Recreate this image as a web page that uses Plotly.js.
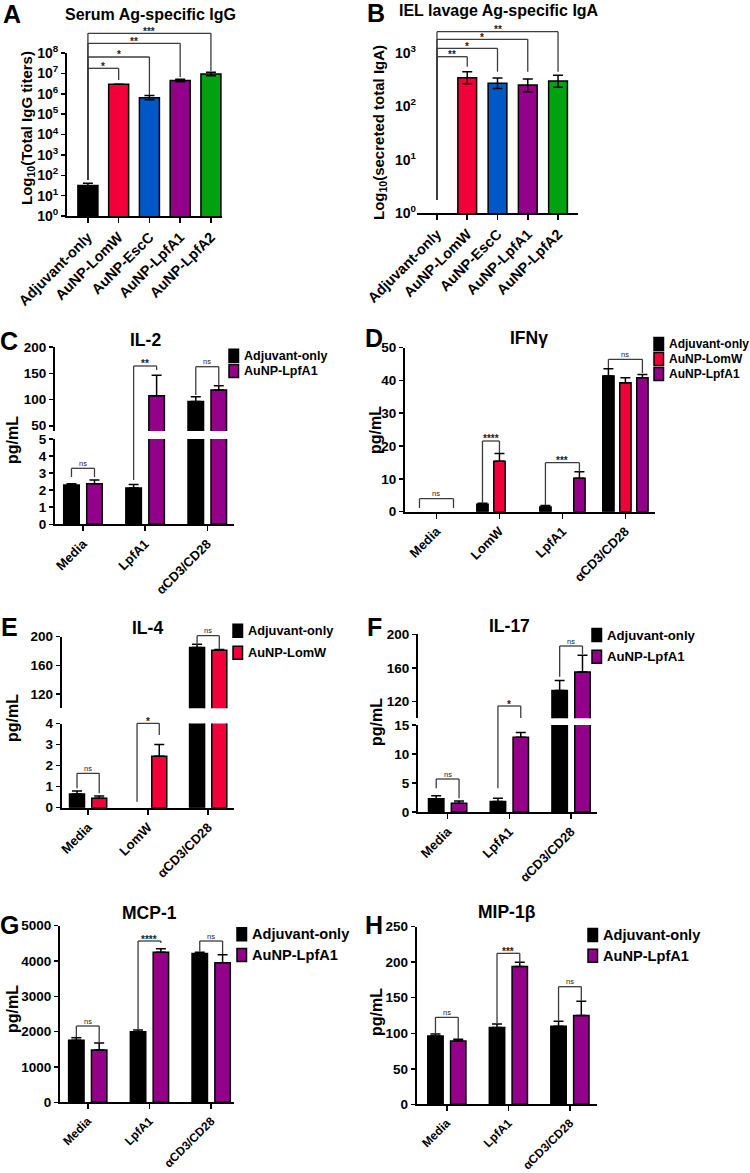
<!DOCTYPE html>
<html><head><meta charset="utf-8">
<script src="https://cdn.plot.ly/plotly-3.0.1.min.js"></script>
<style>html,body{margin:0;padding:0;background:#fff}#chart{width:750px;height:1173px}</style>
</head><body><div id="chart"></div>
<script>
// ================= DATA =================
const vaccineGroups = ['Adjuvant-only', 'AuNP-LomW', 'AuNP-EscC', 'AuNP-LpfA1', 'AuNP-LpfA2'];
const groupColors = ['#000000', '#f2003a', '#0058c6', '#930089', '#00a210'];
// A: serum Ag-specific IgG titers
const serumIgG = [31, 2.9e6, 6.4e5, 4.5e6, 9.3e6];
const serumIgGErrUp = [9, 0, 1.7e5, 7e5, 2.0e6];
const serumIgGErrDown = [6, 0, 1.3e5, 6e5, 1.6e6];
// B: IEL lavage Ag-specific IgA
const ielIgA = [null, 345, 272, 252, 298];
const ielIgAErrUp = [0, 100, 68, 72, 85];
const ielIgAErrDown = [0, 80, 55, 65, 70];
const logTickVals = [1, 10, 100, 1e3, 1e4, 1e5, 1e6, 1e7, 1e8];
const logTickText = ['10<sup>0</sup>', '10<sup>1</sup>', '10<sup>2</sup>', '10<sup>3</sup>', '10<sup>4</sup>',
  '10<sup>5</sup>', '10<sup>6</sup>', '10<sup>7</sup>', '10<sup>8</sup>'];
const sigA = ['*', '*', '**', '***'];
const sigB = ['**', '*', '*', '**'];

const seriesNames = ['Adjuvant-only', 'AuNP-LomW', 'AuNP-LpfA1'];
const stimLpfA1 = ['Media', 'LpfA1', 'αCD3/CD28'];
const stimLomW = ['Media', 'LomW', 'αCD3/CD28'];
const stimIFN = ['Media', 'LomW', 'LpfA1', 'αCD3/CD28'];

// C: IL-2
const il2Adj = [2.3, 2.13, 96];
const il2AdjErr = [0.08, 0.2, 9];
const il2Lpf = [2.38, 107, 118];
const il2LpfErr = [0.22, 39, 8];
const sigC = ['ns', '**', 'ns'];
// D: IFN-gamma (no detectable bar in Media)
const ifnAdj = [null, 2.3, 1.4, 41.3];
const ifnAdjErr = [0, 0.3, 0.45, 2.2];
const ifnLomW = [null, 15.4, null, 39.3];
const ifnLomWErr = [0, 2.3, 0, 1.5];
const ifnLpf = [null, null, 10.2, 40.8];
const ifnLpfErr = [0, 0, 2.0, 1.0];
const sigD = ['ns', '****', '***', 'ns'];
// E: IL-4
const il4Adj = [0.65, null, 185];
const il4AdjErr = [0.14, 0, 4.5];
const il4LomW = [0.45, 2.45, 181];
const il4LomWErr = [0.1, 0.55, 1.2];
const sigE = ['ns', '*', 'ns'];
// F: IL-17
const il17Adj = [2.3, 1.8, 133];
const il17AdjErr = [0.5, 0.55, 12];
const il17Lpf = [1.5, 12.9, 155];
const il17LpfErr = [0.4, 0.8, 20];
const sigF = ['ns', '*', 'ns'];
// G: MCP-1
const mcpAdj = [1760, 2000, 4210];
const mcpAdjErr = [70, 50, 40];
const mcpLpf = [1480, 4250, 3950];
const mcpLpfErr = [200, 100, 230];
const sigG = ['ns', '****', 'ns'];
// H: MIP-1beta
const mipAdj = [96, 108, 110];
const mipAdjErr = [3, 5, 7];
const mipLpf = [89, 194, 125];
const mipLpfErr = [2.5, 6, 20];
const sigH = ['ns', '***', 'ns'];

// ================= HELPERS =================
const W = 750, H = 1173;
const FX = p => p / W;
const FY = p => 1 - p / H;
const FONT = 'Liberation Sans, Arial, Helvetica, sans-serif';
const BLACK = '#000';
const BR = '#3c3c3c';

function zeros(a) { return a.map(() => 0); }

function barTrace(name, x, y, errUp, errDown, color, xa, ya, width, offset) {
  const t = {
    type: 'bar', name: name, x: x, y: y, xaxis: xa, yaxis: ya,
    width: width, showlegend: false, cliponaxis: true,
    marker: { color: color, line: { color: BLACK, width: 1.5 } },
    error_y: { type: 'data', array: errUp, arrayminus: errDown || zeros(errUp), symmetric: false,
      color: BLACK, thickness: 1.5, width: 5 }
  };
  if (offset !== undefined) t.offset = offset;
  return t;
}

function xAxis(l, r, anchor, range, fs) {
  return {
    domain: [FX(l), FX(r)], anchor: anchor, type: 'category', range: range,
    showline: true, linecolor: BLACK, linewidth: 2, ticks: 'outside', ticklen: 5, tickwidth: 1.5,
    tickcolor: BLACK, tickangle: -45, showgrid: false, zeroline: false,
    tickfont: { family: FONT, size: fs, color: BLACK, weight: 'bold' }
  };
}
function yAxis(top, bottom, anchor, extra) {
  return Object.assign({
    domain: [FY(bottom), FY(top)], anchor: anchor,
    showline: true, linecolor: BLACK, linewidth: 2, ticks: 'outside', ticklen: 4, tickwidth: 1.5,
    tickcolor: BLACK, showgrid: false, zeroline: false,
    tickfont: { family: FONT, size: 13.5, color: BLACK, weight: 'bold' }
  }, extra);
}

const shapes = [];
const annotations = [];
function hline(xa, x0, x1, y) { shapes.push({ type: 'line', xref: xa, yref: 'paper', x0: x0, x1: x1, y0: FY(y), y1: FY(y), line: { color: BR, width: 1.3 } }); }
function vline(xa, x, y0, y1) { shapes.push({ type: 'line', xref: xa, yref: 'paper', x0: x, x1: x, y0: FY(y0), y1: FY(y1), line: { color: BR, width: 1.3 } }); }
function bracket(xa, xl, xr, top, le, re, label) {
  hline(xa, xl, xr, top);
  vline(xa, xl, top, le);
  vline(xa, xr, top, re);
  const isNs = label === 'ns';
  annotations.push({
    xref: xa, yref: 'paper', x: (xl + xr) / 2, y: FY(top - (isNs ? 5 : 2)), text: label, showarrow: false,
    xanchor: 'center', yanchor: 'middle',
    font: { family: FONT, size: isNs ? 7.5 : 10, color: '#222', weight: isNs ? 'normal' : 'bold' }
  });
}
function text(t, x, y, size, opts) {
  annotations.push(Object.assign({
    xref: 'paper', yref: 'paper', x: FX(x), y: FY(y), text: t, showarrow: false,
    xanchor: 'center', yanchor: 'middle', font: { family: FONT, size: size, color: BLACK, weight: 'bold' }
  }, opts || {}));
}
function legend(items, colors, sx, rows, fs) {
  items.forEach((it, i) => {
    const cy = rows[i];
    shapes.push({ type: 'rect', xref: 'paper', yref: 'paper', x0: FX(sx), x1: FX(sx + 9.5), y0: FY(cy + 6.5), y1: FY(cy - 6.5),
      fillcolor: colors[i], line: { color: BLACK, width: 1.5 } });
    text(it, sx + 13, cy, fs, { xanchor: 'left' });
  });
}

// ================= TRACES =================
const traces = [];
traces.push(barTrace('Serum IgG', vaccineGroups, serumIgG, serumIgGErrUp, serumIgGErrDown, groupColors, 'x', 'y', 0.65));
traces.push(barTrace('IEL IgA', vaccineGroups, ielIgA, ielIgAErrUp, ielIgAErrDown, groupColors, 'x2', 'y2', 0.62));

const W2 = 0.25, OFF2 = [-0.31, 0.06], C2 = [-0.185, 0.185];
['y3', 'y4'].forEach(ya => {
  traces.push(barTrace(seriesNames[0], stimLpfA1, il2Adj, il2AdjErr, null, '#000000', 'x3', ya, W2, OFF2[0]));
  traces.push(barTrace(seriesNames[2], stimLpfA1, il2Lpf, il2LpfErr, null, groupColors[3], 'x3', ya, W2, OFF2[1]));
});
const W3 = 0.18, OFF3 = [-0.36, -0.09, 0.18], C3 = [-0.27, 0, 0.27];
traces.push(barTrace(seriesNames[0], stimIFN, ifnAdj, ifnAdjErr, null, '#000000', 'x4', 'y5', W3, OFF3[0]));
traces.push(barTrace(seriesNames[1], stimIFN, ifnLomW, ifnLomWErr, null, groupColors[1], 'x4', 'y5', W3, OFF3[1]));
traces.push(barTrace(seriesNames[2], stimIFN, ifnLpf, ifnLpfErr, null, groupColors[3], 'x4', 'y5', W3, OFF3[2]));
['y6', 'y7'].forEach(ya => {
  traces.push(barTrace(seriesNames[0], stimLomW, il4Adj, il4AdjErr, null, '#000000', 'x5', ya, W2, OFF2[0]));
  traces.push(barTrace(seriesNames[1], stimLomW, il4LomW, il4LomWErr, null, groupColors[1], 'x5', ya, W2, OFF2[1]));
});
['y8', 'y9'].forEach(ya => {
  traces.push(barTrace(seriesNames[0], stimLpfA1, il17Adj, il17AdjErr, null, '#000000', 'x6', ya, W2, OFF2[0]));
  traces.push(barTrace(seriesNames[2], stimLpfA1, il17Lpf, il17LpfErr, null, groupColors[3], 'x6', ya, W2, OFF2[1]));
});
traces.push(barTrace(seriesNames[0], stimLpfA1, mcpAdj, mcpAdjErr, null, '#000000', 'x7', 'y10', W2, OFF2[0]));
traces.push(barTrace(seriesNames[2], stimLpfA1, mcpLpf, mcpLpfErr, null, groupColors[3], 'x7', 'y10', W2, OFF2[1]));
traces.push(barTrace(seriesNames[0], stimLpfA1, mipAdj, mipAdjErr, null, '#000000', 'x8', 'y11', W2, OFF2[0]));
traces.push(barTrace(seriesNames[2], stimLpfA1, mipLpf, mipLpfErr, null, groupColors[3], 'x8', 'y11', W2, OFF2[1]));

// ================= LAYOUT =================
const layout = {
  width: W, height: H, margin: { l: 0, r: 0, t: 0, b: 0 },
  paper_bgcolor: '#fff', plot_bgcolor: 'rgba(0,0,0,0)', barmode: 'overlay', showlegend: false,
  font: { family: FONT, color: BLACK },
  xaxis: xAxis(67, 222, 'y', [-0.68, 4.36], 14.5),
  yaxis: yAxis(53, 216, 'x', { type: 'log', range: [0, 8], tickvals: logTickVals, ticktext: logTickText, tickfont: { family: FONT, size: 14, color: BLACK, weight: 'bold' } }),
  xaxis2: xAxis(417, 578, 'y2', [-0.66, 4.66], 14.5),
  yaxis2: yAxis(53, 213, 'x2', { type: 'log', range: [0, 3], tickvals: logTickVals.slice(0, 4), ticktext: logTickText.slice(0, 4), showline: false, ticks: '', tickfont: { family: FONT, size: 14, color: BLACK, weight: 'bold' } }),
  xaxis3: xAxis(55, 234, 'y3', [-0.45, 2.43], 13),
  yaxis3: yAxis(439, 524.3, 'x3', { range: [0, 5], dtick: 1 }),
  yaxis4: yAxis(347, 431, 'x3', { range: [40, 200], tickvals: [50, 100, 150, 200] }),
  xaxis4: xAxis(405, 655, 'y5', [-0.5, 3.47], 13),
  yaxis5: yAxis(347.5, 511.7, 'x4', { range: [0, 50], dtick: 10 }),
  xaxis5: xAxis(61.7, 234, 'y6', [-0.44, 2.43], 13),
  yaxis6: yAxis(723.5, 807.7, 'x5', { range: [0, 4], dtick: 1 }),
  yaxis7: yAxis(636.7, 708.3, 'x5', { range: [100, 200], tickvals: [120, 160, 200] }),
  xaxis6: xAxis(418, 597, 'y8', [-0.48, 2.42], 13),
  yaxis8: yAxis(725, 812, 'x6', { range: [0, 15], dtick: 5 }),
  yaxis9: yAxis(634.3, 718.3, 'x6', { range: [100, 200], tickvals: [120, 160, 200] }),
  xaxis7: xAxis(60, 234, 'y10', [-0.45, 2.37], 12),
  yaxis10: yAxis(925.7, 1102.3, 'x7', { range: [0, 5000], dtick: 1000 }),
  xaxis8: xAxis(416.7, 597, 'y11', [-0.49, 2.44], 12),
  yaxis11: yAxis(926.7, 1104.3, 'x8', { range: [0, 250], dtick: 50 }),
  shapes: shapes, annotations: annotations
};

// ---- significance brackets ----
const aTop = [68.3, 57, 43.3, 33.3], aEnd = [80, 95, 77, 71];
sigA.forEach((s, i) => bracket('x', 0, i + 1, aTop[i], 180, aEnd[i], s));
const bTop = [56.7, 48.3, 39.3, 31.7], bEnd = [66.7, 71.7, 71.7, 71.7];
sigB.forEach((s, i) => bracket('x2', 0, i + 1, bTop[i], 200, bEnd[i], s));
bracket('x3', 0 + C2[0], 0 + C2[1], 468.3, 477, 477, sigC[0]);
bracket('x3', 1 + C2[0], 1 + C2[1], 366, 480, 370, sigC[1]);
bracket('x3', 2 + C2[0], 2 + C2[1], 366.7, 395, 386, sigC[2]);
bracket('x4', 0 + C3[0], 0 + C3[2], 498.7, 508, 508, sigD[0]);
bracket('x4', 1 + C3[0], 1 + C3[1], 441, 503.3, 453.3, sigD[1]);
bracket('x4', 2 + C3[0], 2 + C3[2], 462.7, 505, 471.7, sigD[2]);
bracket('x4', 3 + C3[0], 3 + C3[2], 359.3, 368, 373, sigD[3]);
bracket('x5', 0 + C2[0], 0 + C2[1], 773.3, 788.3, 793.3, sigE[0]);
bracket('x5', 1 + C2[0], 1 + C2[1], 723.3, 801.7, 735, sigE[1]);
bracket('x5', 2 + C2[0], 2 + C2[1], 635.7, 645, 649, sigE[2]);
bracket('x6', 0 + C2[0], 0 + C2[1], 779, 788.3, 798.3, sigF[0]);
bracket('x6', 1 + C2[0], 1 + C2[1], 706, 788.3, 718, sigF[1]);
bracket('x6', 2 + C2[0], 2 + C2[1], 646, 676.7, 654, sigF[2]);
bracket('x7', 0 + C2[0], 0 + C2[1], 1026, 1037.3, 1042.3, sigG[0]);
bracket('x7', 1 + C2[0], 1 + C2[1], 941, 1030, 943, sigG[1]);
bracket('x7', 2 + C2[0], 2 + C2[1], 941, 951.7, 954, sigG[2]);
bracket('x8', 0 + C2[0], 0 + C2[1], 1017.3, 1034, 1039.3, sigH[0]);
bracket('x8', 1 + C2[0], 1 + C2[1], 953.3, 1024, 962.7, sigH[1]);
bracket('x8', 2 + C2[0], 2 + C2[1], 986.7, 1020.7, 1000.7, sigH[2]);

// ---- panel letters ----
[['A', 12, 14], ['B', 376, 13], ['C', 9, 341], ['D', 374, 338], ['E', 9, 627], ['F', 374, 627], ['G', 9, 925], ['H', 374, 925]]
  .forEach(([t, x, y]) => text(t, x, y, 25));
// ---- titles ----
text('Serum Ag-specific IgG', 150, 14, 16);
text('IEL lavage Ag-specific IgA', 499, 11, 16);
text('IL-2', 145, 340, 17.5);
text('IFNγ', 529, 338, 17.5);
text('IL-4', 147.5, 628, 17.5);
text('IL-17', 509, 626, 17.5);
text('MCP-1', 149, 913, 17.5);
text('MIP-1β', 507, 912, 17.5);
// ---- y-axis titles ----
text('Log<sub>10</sub>(Total IgG titers)', 27, 128, 15, { textangle: -90 });
text('Log<sub>10</sub>(secreted total IgA)', 379, 133, 15, { textangle: -90 });
text('pg/mL', 13, 440, 16, { textangle: -90 });
text('pg/mL', 376, 430, 16, { textangle: -90 });
text('pg/mL', 13, 718, 16, { textangle: -90 });
text('pg/mL', 376, 722, 16, { textangle: -90 });
text('pg/mL', 12, 1009, 16, { textangle: -90 });
text('pg/mL', 376, 1012, 16, { textangle: -90 });
// ---- legends ----
legend([seriesNames[0], seriesNames[2]], ['#000000', groupColors[3]], 229, [355.7, 371], 12.5);
legend(seriesNames, ['#000000', groupColors[1], groupColors[3]], 654, [344, 359, 374], 12);
legend([seriesNames[0], seriesNames[1]], ['#000000', groupColors[1]], 233, [630.7, 652.7], 12.8);
legend([seriesNames[0], seriesNames[2]], ['#000000', groupColors[3]], 592, [635, 656.7], 13.2);
legend([seriesNames[0], seriesNames[2]], ['#000000', groupColors[3]], 237, [934.3, 955], 14.6);
legend([seriesNames[0], seriesNames[2]], ['#000000', groupColors[3]], 588, [935, 955.7], 14.6);

Plotly.newPlot('chart', traces, layout, { displayModeBar: false, staticPlot: true });
</script>
</body></html>
